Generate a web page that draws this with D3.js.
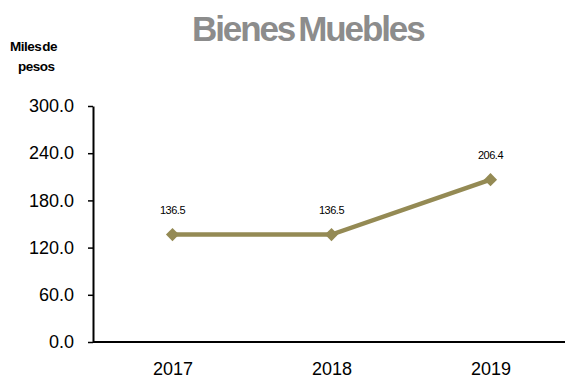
<!DOCTYPE html>
<html>
<head>
<meta charset="utf-8">
<script src="https://cdn.jsdelivr.net/npm/d3@7"></script>
<style>
  body { margin: 0; background: #fff; }
  svg { display: block; font-family: "Liberation Sans", Arial, sans-serif; }
</style>
</head>
<body>
<svg id="chart" width="565" height="382"></svg>
<script>
const years = ["2017", "2018", "2019"];
const values = [136.5, 136.5, 206.4];
const yTicks = [0, 60, 120, 180, 240, 300];

const svg = d3.select("#chart");
const plotLeft = 93, plotRight = 570, plotTop = 106, plotBottom = 342;

const x = d3.scalePoint().domain(years).range([plotLeft, plotRight]).padding(0.5);
const y = d3.scaleLinear().domain([0, 300]).range([plotBottom, plotTop]);

// title
const title = svg.append("text")
  .attr("x", 192).attr("y", 41)
  .attr("font-size", 35).attr("font-weight", "bold")
  .attr("letter-spacing", -2.1)
  .attr("fill", "#8c8c8c");
title.append("tspan").text("Bienes");
title.append("tspan").attr("dx", 4).text("Muebles");

// unit label
const unit = svg.append("text")
  .attr("font-size", 13.5).attr("font-weight", "bold")
  .attr("letter-spacing", -0.5)
  .attr("fill", "#000");
unit.append("tspan").attr("x", 10).attr("y", 51).text("Miles");
unit.append("tspan").attr("dx", 1).text("de");
unit.append("tspan").attr("x", 18).attr("y", 71).text("pesos");

// y axis
const yAxis = svg.append("g")
  .attr("transform", `translate(${plotLeft},0)`)
  .call(d3.axisLeft(y).tickValues(yTicks).tickFormat(d3.format(".1f")).tickSizeInner(5).tickSizeOuter(0).tickPadding(14));
yAxis.select(".domain").attr("stroke", "#000").attr("stroke-width", 2);
yAxis.selectAll(".tick line").attr("stroke", "#000").attr("stroke-width", 1.5);
yAxis.selectAll(".tick text").attr("font-size", 18).attr("fill", "#000")
  .attr("font-family", "Liberation Sans, Arial, sans-serif");

// x axis
const xAxis = svg.append("g")
  .attr("transform", `translate(0,${plotBottom})`)
  .call(d3.axisBottom(x).tickSize(0).tickPadding(20));
xAxis.select(".domain").attr("d", `M${plotLeft},0H565`).attr("stroke", "#000").attr("stroke-width", 2);
xAxis.selectAll(".tick text").attr("font-size", 18).attr("fill", "#000")
  .attr("font-family", "Liberation Sans, Arial, sans-serif");

const data = years.map((yr, i) => ({ yr, v: values[i] }));
const color = "#948a54";

// line
svg.append("path")
  .datum(data)
  .attr("fill", "none")
  .attr("stroke", color)
  .attr("stroke-width", 4.5)
  .attr("d", d3.line().x(d => x(d.yr)).y(d => y(d.v)));

// diamond markers
svg.selectAll(".marker")
  .data(data).enter().append("path")
  .attr("class", "marker")
  .attr("transform", d => `translate(${x(d.yr)},${y(d.v)})`)
  .attr("d", d3.symbol().type(d3.symbolDiamond2).size(110)())
  .attr("fill", color);

// value labels
svg.selectAll(".val")
  .data(data).enter().append("text")
  .attr("x", d => x(d.yr))
  .attr("y", d => y(d.v) - 21)
  .attr("text-anchor", "middle")
  .attr("font-size", 11)
  .attr("letter-spacing", -0.5)
  .attr("fill", "#000")
  .text(d => d.v.toFixed(1));
</script>
</body>
</html>
